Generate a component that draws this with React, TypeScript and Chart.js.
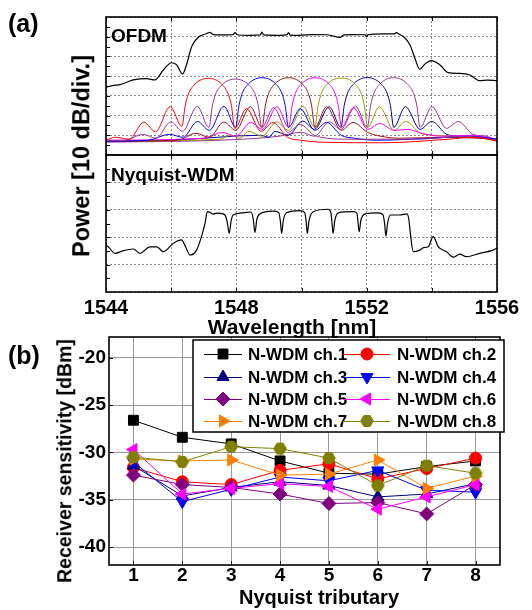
import React, { useEffect, useRef } from 'react';
import { Chart, registerables } from 'chart.js';
import { drawPoint } from 'chart.js/helpers';

Chart.register(...registerables);

const FONT = '"Liberation Sans", Arial, Helvetica, sans-serif';

// ---------- Panel (a): spectra ----------
const WL_GRID = [1544, 1546, 1548, 1550, 1552, 1554, 1556];
const WL_TICK_LABELS = ['1544', '', '1548', '', '1552', '', '1556'];
const OFDM_DB_GRID = [-70, -60, -50, -40, -30, -20, -10, 0];
const NYQ_DB_GRID = [-50, -40, -30, -20, -10, 0];

const OFDM_TOTAL: [number, number][] = [
  [1544.0, -35.7], [1544.2, -34.8], [1544.43, -34.3], [1544.65, -33.0], [1544.84, -31.9],
  [1545.05, -31.4], [1545.25, -31.3], [1545.5, -31.9], [1545.76, -26.9], [1546.01, -23.2],
  [1546.17, -24.3], [1546.35, -28.9], [1546.47, -24.3], [1546.63, -15.0], [1546.83, -10.3],
  [1547.0, -8.9], [1547.09, -8.4], [1547.18, -7.8], [1547.3, -8.9], [1547.5, -9.1],
  [1547.9, -9.0], [1547.96, -7.9], [1548.02, -9.0], [1548.42, -9.3], [1548.74, -9.1],
  [1548.78, -7.6], [1548.84, -9.1], [1549.3, -9.3], [1549.55, -9.1], [1549.6, -7.9],
  [1549.65, -9.2], [1549.95, -9.3], [1550.36, -8.9], [1550.8, -9.0], [1551.18, -10.4],
  [1551.3, -9.1], [1551.59, -8.9], [1551.95, -9.0], [1552.0, -9.9], [1552.05, -8.9],
  [1552.5, -8.6], [1552.85, -8.6], [1552.91, -7.9], [1553.0, -8.8], [1553.12, -9.8],
  [1553.33, -14.2], [1553.48, -20.9], [1553.63, -26.5], [1553.79, -23.8], [1553.99, -22.1],
  [1554.25, -24.3], [1554.5, -28.2], [1554.86, -28.6], [1555.17, -29.4], [1555.47, -32.3],
  [1555.7, -32.0], [1556.0, -32.3],
];

const SC_RED: [number, number][] = [
  [1544.0, -62.5], [1544.3, -61], [1544.71, -62], [1545.16, -53.4], [1545.52, -58.2],
  [1545.97, -45.5], [1546.33, -55.5], [1546.43, -45], [1546.53, -39], [1546.73, -34],
  [1546.94, -31.7], [1547.14, -31.1], [1547.34, -31.7], [1547.55, -34], [1547.75, -39],
  [1547.85, -45], [1547.95, -56.5], [1548.31, -46.5], [1548.76, -58], [1549.12, -53.5],
  [1549.57, -61], [1549.98, -62.5], [1550.6, -63.5], [1552.5, -63.8], [1554.5, -62],
  [1555.3, -61], [1556, -63],
];
const SC_PURPLE1: [number, number][] = [
  [1544.0, -62.8], [1544.6, -62.5], [1545.13, -59.5], [1545.54, -61.5], [1545.99, -53.2],
  [1546.35, -58], [1546.8, -45.3], [1547.16, -56], [1547.26, -45.5], [1547.36, -39.3],
  [1547.56, -34.4], [1547.77, -32.1], [1547.97, -31.5], [1548.17, -32.1], [1548.38, -34.4],
  [1548.58, -39.3], [1548.68, -45.5], [1548.78, -56], [1549.14, -46], [1549.59, -58.5],
  [1549.95, -54.5], [1550.4, -60], [1550.81, -61.5], [1551.5, -62], [1553.5, -62],
  [1555, -60.5], [1556, -62.5],
];
const SC_BLUE: [number, number][] = [
  [1544.0, -63], [1545.3, -62.5], [1545.95, -59.5], [1546.36, -61], [1546.81, -53],
  [1547.17, -57.5], [1547.62, -45.3], [1547.98, -56], [1548.08, -45], [1548.18, -38.8],
  [1548.38, -33.8], [1548.59, -31.4], [1548.79, -30.8], [1548.99, -31.4], [1549.2, -33.8],
  [1549.4, -38.8], [1549.5, -45], [1549.6, -56], [1549.96, -46.5], [1550.41, -57.5],
  [1550.77, -53.5], [1551.22, -60], [1551.63, -61.5], [1552.3, -62.5], [1554, -61.5],
  [1555.2, -60.5], [1556, -62],
];
const SC_BROWN: [number, number][] = [
  [1544.0, -63], [1546.2, -62.5], [1546.76, -59], [1547.17, -61], [1547.62, -53.3],
  [1547.98, -57.5], [1548.43, -45.5], [1548.79, -56], [1548.89, -45], [1548.99, -38.8],
  [1549.19, -33.8], [1549.4, -31.4], [1549.6, -30.8], [1549.8, -31.4], [1550.01, -33.8],
  [1550.21, -38.8], [1550.31, -45], [1550.41, -56], [1550.77, -45.5], [1551.22, -57.5],
  [1551.58, -53.5], [1552.03, -58.5], [1552.44, -60.5], [1553.0, -61.5], [1554.5, -61],
  [1556, -62],
];
const SC_MAGENTA: [number, number][] = [
  [1544.0, -62.5], [1547.0, -61.5], [1547.58, -58.5], [1547.99, -60.5], [1548.44, -53.5],
  [1548.8, -57], [1549.25, -45.5], [1549.61, -56], [1549.71, -45], [1549.81, -38.8],
  [1550.01, -33.8], [1550.22, -31.4], [1550.42, -30.8], [1550.62, -31.4], [1550.83, -33.8],
  [1551.03, -38.8], [1551.13, -45], [1551.23, -56], [1551.59, -46], [1552.04, -57],
  [1552.4, -54], [1552.85, -57.5], [1553.26, -57], [1553.7, -59], [1554.3, -60.5],
  [1555.2, -60], [1556, -62],
];
const SC_OLIVE: [number, number][] = [
  [1544.0, -63], [1547.5, -62], [1547.8, -60], [1548.1, -61.5], [1548.38, -58],
  [1548.79, -60.5], [1549.24, -53.2], [1549.6, -57.5], [1550.05, -45.3], [1550.41, -56],
  [1550.51, -45], [1550.61, -38.8], [1550.81, -33.8], [1551.02, -31.5], [1551.22, -31.0],
  [1551.42, -31.5], [1551.63, -33.8], [1551.83, -38.8], [1551.93, -45], [1552.03, -56],
  [1552.39, -45.5], [1552.84, -57.5], [1553.2, -53], [1553.65, -59], [1554.06, -60],
  [1554.7, -60.5], [1555.5, -61], [1556, -62.5],
];
const SC_NAVY: [number, number][] = [
  [1544.0, -63], [1546.0, -62.5], [1548.75, -60], [1549.0, -61], [1549.18, -58],
  [1549.59, -60], [1550.04, -52.8], [1550.4, -57], [1550.85, -45.5], [1551.21, -56],
  [1551.31, -45], [1551.41, -38.8], [1551.61, -33.8], [1551.82, -31.4], [1552.02, -30.7],
  [1552.22, -31.4], [1552.43, -33.8], [1552.63, -38.8], [1552.73, -45], [1552.83, -56],
  [1553.19, -45.5], [1553.64, -57], [1554.0, -53], [1554.45, -59.5], [1554.86, -60.5],
  [1555.5, -61], [1556, -62.5],
];
const SC_PURPLE2: [number, number][] = [
  [1544.0, -63.5], [1547.5, -62.5], [1549.3, -60.5], [1549.99, -58.5], [1550.4, -60.5],
  [1550.85, -53.2], [1551.21, -57], [1551.66, -45.3], [1552.02, -56], [1552.12, -45],
  [1552.22, -38.8], [1552.42, -33.8], [1552.63, -31.4], [1552.83, -30.8], [1553.03, -31.4],
  [1553.24, -33.8], [1553.44, -38.8], [1553.54, -45], [1553.64, -56], [1554.0, -45.5],
  [1554.45, -56.5], [1554.81, -53], [1555.26, -59.5], [1555.67, -60.5], [1556, -62.5],
];

const NYQ_TOTAL: [number, number][] = [
  [1544.0, -33.0], [1544.07, -33.5], [1544.28, -35.9], [1544.53, -34.9], [1544.84, -34.3],
  [1545.04, -35.9], [1545.35, -33.5], [1545.56, -33.5], [1545.76, -35.3], [1546.07, -32.2],
  [1546.32, -31.0], [1546.42, -32.9], [1546.58, -36.5], [1546.78, -34.7], [1546.93, -29.8],
  [1547.04, -24.9], [1547.11, -20.7], [1547.19, -20.9], [1547.29, -21.6], [1547.4, -21.2],
  [1547.5, -21.3], [1547.65, -21.9], [1547.72, -24.5], [1547.78, -28.6], [1547.84, -24.0],
  [1547.9, -21.9], [1548.21, -21.1], [1548.45, -20.8], [1548.52, -23.5], [1548.57, -28.3],
  [1548.63, -23.5], [1548.72, -21.5], [1549.13, -20.5], [1549.3, -21.0], [1549.35, -24.0],
  [1549.39, -28.6], [1549.44, -24.0], [1549.54, -21.1], [1549.95, -20.3], [1550.1, -21.0],
  [1550.14, -24.0], [1550.18, -28.6], [1550.23, -24.0], [1550.36, -20.7], [1550.82, -19.8],
  [1550.9, -21.0], [1550.93, -24.0], [1550.97, -28.6], [1551.02, -24.0], [1551.13, -21.1],
  [1551.59, -20.7], [1551.7, -21.2], [1551.73, -24.0], [1551.77, -28.0], [1551.82, -24.0],
  [1551.95, -21.5], [1552.35, -21.1], [1552.5, -21.8], [1552.55, -25.0], [1552.59, -29.6],
  [1552.64, -25.0], [1552.73, -21.9], [1553.02, -21.9], [1553.24, -21.5], [1553.3, -24.0],
  [1553.33, -27.4], [1553.43, -35.3], [1553.63, -34.7], [1553.75, -33.8], [1553.89, -33.5],
  [1554.04, -29.8], [1554.2, -33.5], [1554.45, -35.3], [1554.66, -37.3], [1554.86, -36.2],
  [1555.06, -37.1], [1555.47, -35.9], [1555.88, -34.7], [1556.0, -34.0],
];

const SUBCARRIERS: [number, number][][] = [
  SC_RED, SC_PURPLE1, SC_BLUE, SC_BROWN, SC_MAGENTA, SC_OLIVE, SC_NAVY, SC_PURPLE2,
];
const SUBCARRIER_COLORS = [
  '#ff0000', '#993399', '#0000ff', '#9a1010', '#ff00ff', '#999900', '#000099', '#993399',
];

// ---------- Panel (b): receiver sensitivity ----------
const TRIBUTARIES = [1, 2, 3, 4, 5, 6, 7, 8];
const SENS_TICKS = [-40, -35, -30, -25, -20];
const CH1 = [-26.6, -28.4, -29.1, -30.9, -32.2, -32.3, -31.5, -30.9];
const CH2 = [-31.6, -33.1, -33.4, -31.9, -31.2, -32.8, -31.7, -30.6];
const CH3 = [-31.4, -34.6, -33.7, -33.1, -33.5, -34.7, -34.4, -33.3];
const CH4 = [-31.0, -35.2, -33.9, -32.6, -33.0, -31.9, -34.0, -34.2];
const CH5 = [-32.4, -33.4, -33.7, -34.4, -35.4, -35.3, -36.5, -33.4];
const CH6 = [-29.7, -34.4, -33.8, -33.3, -33.6, -36.0, -34.7, -33.4];
const CH7 = [-30.7, -30.9, -30.8, -32.4, -32.3, -30.8, -33.8, -32.5];
const CH8 = [-30.5, -31.0, -29.4, -29.6, -30.6, -33.5, -31.4, -32.2];
const CH_NAMES = [
  'N-WDM ch.1', 'N-WDM ch.2', 'N-WDM ch.3', 'N-WDM ch.4',
  'N-WDM ch.5', 'N-WDM ch.6', 'N-WDM ch.7', 'N-WDM ch.8',
];
const CH_COLORS = ['#000000', '#ff0000', '#000080', '#0000ff', '#800080', '#ff00ff', '#ff8000', '#808000'];
const CH_VALUES = [CH1, CH2, CH3, CH4, CH5, CH6, CH7, CH8];

function makeHexagon(color: string): HTMLCanvasElement {
  const c = document.createElement('canvas');
  c.width = 14;
  c.height = 14;
  const g = c.getContext('2d')!;
  g.beginPath();
  for (let i = 0; i < 6; i++) {
    const a = (Math.PI / 3) * i;
    const px = 7 + 6.3 * Math.cos(a);
    const py = 7 + 6.3 * Math.sin(a);
    if (i === 0) g.moveTo(px, py);
    else g.lineTo(px, py);
  }
  g.closePath();
  g.fillStyle = color;
  g.fill();
  g.strokeStyle = color;
  g.lineWidth = 1;
  g.stroke();
  return c;
}

type TickSpec = { left?: number[]; bottom?: number[]; top?: number[]; len: number };

function framePlugin(id: string, spec: TickSpec) {
  return {
    id,
    afterDatasetsDraw(chart: any) {
      const { ctx, chartArea: a, scales } = chart;
      ctx.save();
      ctx.strokeStyle = '#000';
      ctx.lineWidth = 1;
      ctx.beginPath();
      (spec.left || []).forEach((v) => {
        const y = Math.round(scales.y.getPixelForValue(v)) + 0.5;
        ctx.moveTo(a.left, y);
        ctx.lineTo(a.left + spec.len, y);
      });
      (spec.bottom || []).forEach((v) => {
        const x = Math.round(scales.x.getPixelForValue(v)) + 0.5;
        ctx.moveTo(x, a.bottom);
        ctx.lineTo(x, a.bottom - spec.len);
      });
      (spec.top || []).forEach((v) => {
        const x = Math.round(scales.x.getPixelForValue(v)) + 0.5;
        ctx.moveTo(x, a.top);
        ctx.lineTo(x, a.top + spec.len);
      });
      ctx.stroke();
      ctx.lineWidth = 1.6;
      ctx.strokeRect(a.left, a.top, a.right - a.left, a.bottom - a.top);
      ctx.restore();
    },
  };
}

const POINT_STYLES: any[] = ['rect', 'circle', 'triangle', 'triangle', 'rectRot', 'triangle', 'triangle', null];
const POINT_ROT = [0, 0, 0, 180, 0, 270, 90, 0];
const POINT_RAD = [7, 6, 7, 7, 7, 7, 7, 6];

function legendPlugin(styles: any[]) {
  return {
    id: 'customLegend',
    afterDraw(chart: any) {
      const { ctx } = chart;
      const top = 30; // canvas-local (abs 340)
      const box = { l: 193, t: top, r: 504, b: top + 92 };
      ctx.save();
      ctx.fillStyle = '#fff';
      ctx.fillRect(box.l, box.t, box.r - box.l, box.b - box.t);
      ctx.strokeStyle = '#000';
      ctx.lineWidth = 1.5;
      ctx.strokeRect(box.l, box.t, box.r - box.l, box.b - box.t);
      const rowY = [44, 67, 89, 111];
      const cols = [
        { l1: 204, l2: 242, m: 223, t: 248 },
        { l1: 343, l2: 390, m: 367, t: 397 },
      ];
      ctx.font = `bold 17px ${FONT}`;
      ctx.textBaseline = 'middle';
      ctx.textAlign = 'left';
      for (let i = 0; i < 8; i++) {
        const row = Math.floor(i / 2);
        const col = cols[i % 2];
        const y = rowY[row];
        ctx.strokeStyle = CH_COLORS[i];
        ctx.lineWidth = 1;
        ctx.beginPath();
        ctx.moveTo(col.l1, y + 0.5);
        ctx.lineTo(col.l2, y + 0.5);
        ctx.stroke();
        ctx.fillStyle = CH_COLORS[i];
        drawPoint(ctx, { pointStyle: styles[i], rotation: POINT_ROT[i], radius: POINT_RAD[i], borderWidth: 1 }, col.m, y);
        ctx.fillStyle = '#000';
        ctx.fillText(CH_NAMES[i], col.t, y + 1);
      }
      ctx.restore();
    },
  };
}

const toXY = (pts: [number, number][]) => pts.map(([x, y]) => ({ x, y }));

function hiddenAxis(min: number, max: number, grid: number[], isX: boolean) {
  return {
    type: 'linear',
    min,
    max,
    afterBuildTicks: (s: any) => {
      s.ticks = grid.map((v) => ({ value: v }));
    },
    ticks: { display: false },
    grid: { color: '#8a8a8a', lineWidth: 1, drawTicks: false },
    border: { display: false, dash: [2, 2] },
    afterFit: (s: any) => {
      if (isX) s.height = 0;
      else s.width = 0;
    },
  };
}

const lineDs = (pts: [number, number][], color: string, w = 1) => ({
  data: toXY(pts),
  borderColor: color,
  backgroundColor: color,
  borderWidth: w,
  pointRadius: 0,
  cubicInterpolationMode: 'monotone',
  fill: false,
});

const Label = (p: { x: number; y: number; size: number; text: string; rotate?: boolean; center?: boolean }) => (
  <div
    style={{
      position: 'absolute',
      left: p.x,
      top: p.y,
      fontFamily: FONT,
      fontWeight: 'bold',
      fontSize: p.size,
      lineHeight: 1,
      whiteSpace: 'nowrap',
      color: '#000',
      transform: p.center ? `translate(-50%, -50%)${p.rotate ? ' rotate(-90deg)' : ''}` : undefined,
    }}
  >
    {p.text}
  </div>
);

export default function App() {
  const refA1 = useRef<HTMLCanvasElement>(null);
  const refA2 = useRef<HTMLCanvasElement>(null);
  const refB = useRef<HTMLCanvasElement>(null);

  useEffect(() => {
    const charts: Chart[] = [];
    const common = {
      responsive: false,
      animation: false as const,
      devicePixelRatio: 1,
      plugins: { legend: { display: false }, tooltip: { enabled: false } },
    };

    // OFDM panel
    charts.push(
      new Chart(refA1.current!, {
        type: 'line',
        data: {
          datasets: [
            ...SUBCARRIERS.map((sc, i) => lineDs(sc, SUBCARRIER_COLORS[i], 1)),
            lineDs(OFDM_TOTAL, '#000', 1.2),
          ] as any,
        },
        options: {
          ...common,
          layout: { padding: { left: 106, right: 35, top: 17, bottom: 5 } },
          scales: {
            x: hiddenAxis(1544, 1556, WL_GRID, true),
            y: hiddenAxis(-70, 0, OFDM_DB_GRID, false),
          } as any,
        },
        plugins: [
          framePlugin('frameA1', {
            left: [-65, -60, -55, -50, -45, -40, -35, -30, -25, -20, -15, -10, -5],
            top: WL_GRID,
            bottom: WL_GRID,
            len: 4,
          }),
        ],
      } as any)
    );

    // Nyquist-WDM panel
    const xA2: any = hiddenAxis(1544, 1556, WL_GRID, true);
    xA2.ticks = {
      display: true,
      autoSkip: false,
      maxRotation: 0,
      padding: 6,
      color: '#000',
      font: { family: FONT, size: 20, weight: 'bold', lineHeight: 1 },
      callback: (_v: any, i: number) => WL_TICK_LABELS[i],
    };
    xA2.afterFit = (s: any) => {
      s.height = 48;
    };
    charts.push(
      new Chart(refA2.current!, {
        type: 'line',
        data: { datasets: [lineDs(NYQ_TOTAL, '#000', 1.2)] as any },
        options: {
          ...common,
          layout: { padding: { left: 106, right: 35, top: 5, bottom: 0 } },
          scales: { x: xA2, y: hiddenAxis(-50, 0, NYQ_DB_GRID, false) } as any,
        },
        plugins: [
          framePlugin('frameA2', {
            left: [-45, -40, -35, -30, -25, -20, -15, -10, -5],
            top: WL_GRID,
            bottom: WL_GRID,
            len: 4,
          }),
        ],
      } as any)
    );

    // Panel (b)
    const hex = makeHexagon(CH_COLORS[7]);
    const styles = POINT_STYLES.map((s) => (s === null ? hex : s));
    charts.push(
      new Chart(refB.current!, {
        type: 'line',
        data: {
          datasets: CH_VALUES.map((vals, i) => ({
            label: CH_NAMES[i],
            data: vals.map((v, k) => ({ x: TRIBUTARIES[k], y: v })),
            borderColor: CH_COLORS[i],
            backgroundColor: CH_COLORS[i],
            borderWidth: 1,
            pointStyle: styles[i],
            pointRotation: POINT_ROT[i],
            pointRadius: POINT_RAD[i],
            pointBorderWidth: 1,
            tension: 0,
            order: 8 - i,
          })) as any,
        },
        options: {
          ...common,
          layout: { padding: { left: 0, right: 32, top: 27, bottom: 0 } },
          scales: {
            x: {
              type: 'linear',
              min: 0.5,
              max: 8.5,
              afterBuildTicks: (s: any) => {
                s.ticks = TRIBUTARIES.map((v) => ({ value: v }));
              },
              ticks: {
                autoSkip: false,
                maxRotation: 0,
                padding: 1,
                color: '#000',
                font: { family: FONT, size: 19, weight: 'bold', lineHeight: 1 },
              },
              grid: { color: '#9a9a9a', lineWidth: 1, drawTicks: false },
              border: { display: false },
              afterFit: (s: any) => {
                s.height = 45;
              },
            },
            y: {
              type: 'linear',
              min: -41.9,
              max: -17.8,
              afterBuildTicks: (s: any) => {
                s.ticks = SENS_TICKS.map((v) => ({ value: v }));
              },
              ticks: {
                padding: 3,
                color: '#000',
                font: { family: FONT, size: 19, weight: 'bold', lineHeight: 1 },
              },
              grid: { color: '#9a9a9a', lineWidth: 1, drawTicks: false },
              border: { display: false },
              afterFit: (s: any) => {
                s.width = 109;
              },
            },
          } as any,
        },
        plugins: [
          framePlugin('frameB', { left: SENS_TICKS, bottom: TRIBUTARIES, len: 4 }),
          legendPlugin(styles),
        ],
      } as any)
    );

    return () => charts.forEach((c) => c.destroy());
  }, []);

  const cv = (top: number, h: number): React.CSSProperties => ({
    position: 'absolute',
    left: 0,
    top,
    width: 532,
    height: h,
  });

  return (
    <div style={{ position: 'absolute', left: 0, top: 0, width: 532, height: 610, background: '#fff', overflow: 'hidden' }}>
      <canvas ref={refA1} width={532} height={160} style={cv(0, 160)} />
      <canvas ref={refA2} width={532} height={190} style={cv(150, 190)} />
      <canvas ref={refB} width={532} height={300} style={cv(310, 300)} />
      <Label x={8} y={11} size={25} text="(a)" />
      <Label x={111} y={26} size={19} text="OFDM" />
      <Label x={111} y={165} size={19} text="Nyquist-WDM" />
      <Label x={82} y={156} size={23.5} text="Power [10 dB/div.]" rotate center />
      <Label x={292} y={326} size={21} text="Wavelength [nm]" center />
      <Label x={8} y={343} size={25} text="(b)" />
      <Label x={65} y={461} size={19.5} text="Receiver sensitivity [dBm]" rotate center />
      <Label x={319} y={597} size={20} text="Nyquist tributary" center />
    </div>
  );
}
